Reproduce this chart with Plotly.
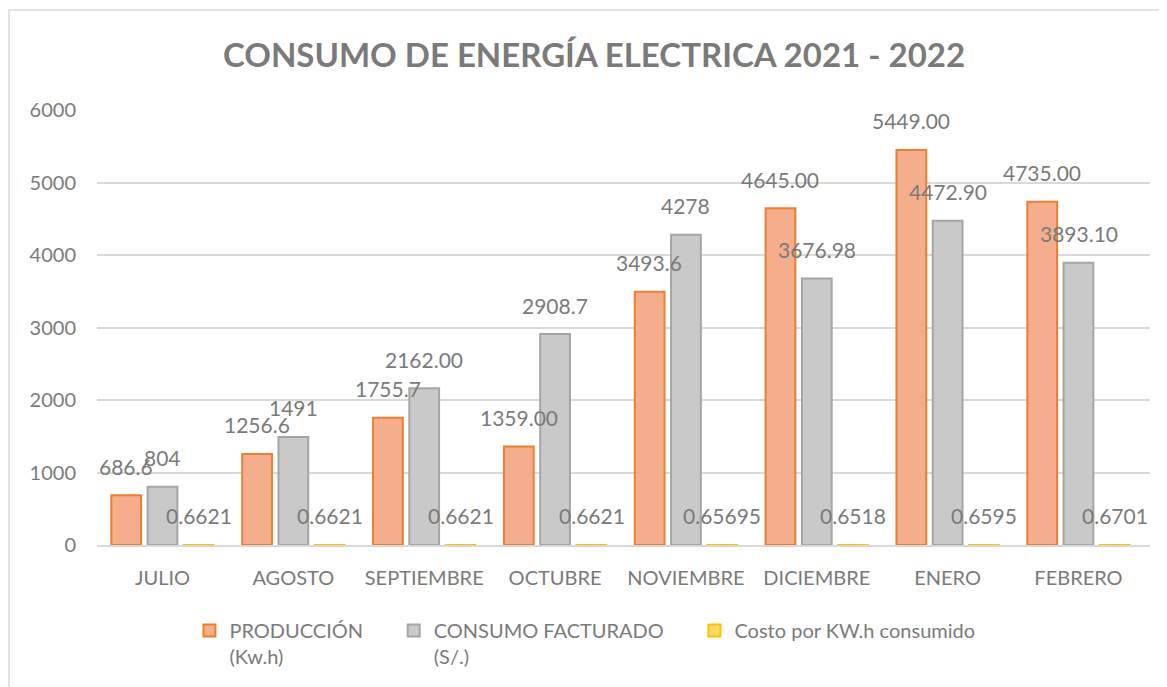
import plotly.graph_objects as go

months = ["JULIO", "AGOSTO", "SEPTIEMBRE", "OCTUBRE", "NOVIEMBRE", "DICIEMBRE", "ENERO", "FEBRERO"]
produccion = [686.6, 1256.6, 1755.7, 1359.00, 3493.6, 4645.00, 5449.00, 4735.00]
consumo = [804, 1491, 2162.00, 2908.7, 4278, 3676.98, 4472.90, 3893.10]
costo = [0.6621, 0.6621, 0.6621, 0.6621, 0.65695, 0.6518, 0.6595, 0.6701]

produccion_lbl = ["686.6", "1256.6", "1755.7", "1359.00", "3493.6", "4645.00", "5449.00", "4735.00"]
consumo_lbl = ["804", "1491", "2162.00", "2908.7", "4278", "3676.98", "4472.90", "3893.10"]
costo_lbl = ["0.6621", "0.6621", "0.6621", "0.6621", "0.65695", "0.6518", "0.6595", "0.6701"]

NB = "\u00a0" * 5
names = ["PRODUCCIÓN" + NB + "<br>(Kw.h)", "CONSUMO FACTURADO" + NB + "<br>(S/.)", "Costo por KW.h consumido"]
series = [produccion, consumo, costo]
labels = [produccion_lbl, consumo_lbl, costo_lbl]
fills = ["#F5AE8C", "#C9C9C9", "#FFD966"]
lines = ["#ED7D31", "#A5A5A5", "#FFC000"]

FONT = "Lato, 'Open Sans', sans-serif"
TXT = "#7A7A7A"
W, H = 1159, 679  # page body adds an 8px margin

fig = go.Figure()
for nm, vals, fc, lc in zip(names, series, fills, lines):
    fig.add_trace(go.Bar(
        x=months, y=vals, name=nm,
        marker=dict(color=fc, line=dict(color=lc, width=2)),
        hoverinfo="x+y",
    ))

shifts = [-36.5, 0, 36.5]
for vals, lbls, xs in zip(series, labels, shifts):
    for m, v, t in zip(months, vals, lbls):
        fig.add_annotation(
            x=m, y=v, text=t, showarrow=False,
            xshift=xs, yshift=29, yanchor="middle", xanchor="center",
            font=dict(family=FONT, size=21, color=TXT),
        )

# chart border (left and top edges visible)
fig.add_shape(type="rect", xref="paper", yref="paper",
              x0=-0.0836, x1=1.05, y0=-0.40, y1=1.2299,
              line=dict(color="#D9D9D9", width=1.5), fillcolor="rgba(0,0,0,0)", layer="below")

fig.update_layout(
    width=W, height=H,
    paper_bgcolor="white", plot_bgcolor="white",
    margin=dict(l=89, r=17, t=102, b=142, autoexpand=False),
    barmode="group", bargap=0.168, bargroupgap=0.18,
    title=dict(text="<b>CONSUMO DE ENERGÍA ELECTRICA 2021 - 2022</b>",
               x=586 / W, xanchor="center", y=1 - 47 / H, yanchor="middle",
               xref="container", yref="container",
               font=dict(family=FONT, size=33, color="#7A7A7A")),
    font=dict(family=FONT, size=20, color=TXT),
    showlegend=True,
    legend=dict(orientation="h", x=0.4634, xanchor="center",
                yref="container", y=1 - 603 / H, yanchor="top",
                valign="top", font=dict(family=FONT, size=20, color=TXT),
                itemwidth=30, tracegroupgap=0, traceorder="normal"),
    xaxis=dict(showline=True, linecolor="#D9D9D9", linewidth=1.5, ticks="", automargin=False,
               tickfont=dict(family=FONT, size=20, color=TXT), ticklabelstandoff=14),
    yaxis=dict(range=[0, 6000], dtick=1000, showgrid=True, gridcolor="#D9D9D9", gridwidth=1.5,
               zeroline=False, showline=False, ticks="", automargin=False,
               tickfont=dict(family=FONT, size=20, color=TXT), ticklabelstandoff=20),
)

fig.write_html("out.html")
